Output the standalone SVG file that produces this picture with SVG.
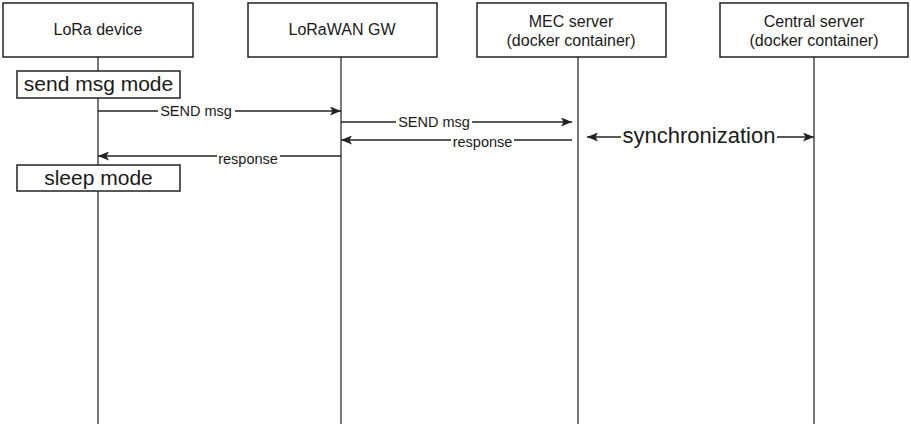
<svg xmlns="http://www.w3.org/2000/svg" width="911" height="428" viewBox="0 0 911 428">
<style>
.box{fill:#fff;stroke:#222;stroke-width:1.5}
.life{stroke:#555;stroke-width:1.6;fill:none}
.msg{stroke:#222;stroke-width:1.5;fill:none}
.t{font-family:"Liberation Sans",Arial,sans-serif;fill:#1a1a1a;text-anchor:middle}
.h{font-size:16px}
.m{font-size:21px}
.l{font-size:14.5px}
.s{font-size:22px}
.bg{fill:#fff}
</style>
<defs>
<marker id="ah" viewBox="0 0 11 9" refX="11" refY="4.5" markerWidth="11" markerHeight="9" markerUnits="userSpaceOnUse" orient="auto-start-reverse">
<path d="M0,0 L11,4.5 L0,9 L2.5,4.5 Z" fill="#222"/>
</marker>
</defs>
<rect width="911" height="428" fill="#fff"/>
<g id="lifelines">
<line class="life" x1="98" y1="57" x2="98" y2="424"/>
<line class="life" x1="341" y1="57" x2="341" y2="424"/>
<line class="life" x1="578" y1="57" x2="578" y2="424"/>
<line class="life" x1="814" y1="57" x2="814" y2="424"/>
</g>
<g id="lora-device">
<rect class="box" x="3" y="3" width="190" height="54"/>
<text class="t h" x="98" y="35">LoRa device</text>
</g>
<g id="lorawan-gw">
<rect class="box" x="248" y="3" width="189" height="54"/>
<text class="t h" x="342" y="35">LoRaWAN GW</text>
</g>
<g id="mec-server">
<rect class="box" x="477" y="3" width="189" height="54"/>
<text class="t h" x="571" y="27">MEC server</text>
<text class="t h" x="571" y="46">(docker container)</text>
</g>
<g id="central-server">
<rect class="box" x="720" y="3" width="188" height="54"/>
<text class="t h" x="814" y="27">Central server</text>
<text class="t h" x="814" y="46">(docker container)</text>
</g>
<g id="send-msg-mode">
<rect class="box" x="17" y="71" width="163" height="27"/>
<text class="t m" x="98.5" y="91">send msg mode</text>
</g>
<g id="sleep-mode">
<rect class="box" x="17" y="165" width="163" height="26"/>
<text class="t m" x="98.5" y="184.5">sleep mode</text>
</g>
<g id="connectors">
<line class="msg" x1="98" y1="111" x2="341" y2="111" marker-end="url(#ah)"/>
<rect class="bg" x="158" y="104" width="77" height="13"/>
<text class="t l" x="196" y="115.5">SEND msg</text>
<line class="msg" x1="341" y1="122" x2="572" y2="122" marker-end="url(#ah)"/>
<rect class="bg" x="396" y="115" width="76" height="13"/>
<text class="t l" x="434" y="126.5">SEND msg</text>
<line class="msg" x1="572" y1="140" x2="341" y2="140" marker-end="url(#ah)"/>
<rect class="bg" x="451" y="138" width="63" height="12"/>
<text class="t l" x="482.5" y="147">response</text>
<line class="msg" x1="341" y1="156" x2="98" y2="156" marker-end="url(#ah)"/>
<rect class="bg" x="217" y="154" width="63" height="12"/>
<text class="t l" x="248" y="164">response</text>
<line class="msg" x1="587" y1="137" x2="814" y2="137" marker-start="url(#ah)" marker-end="url(#ah)"/>
<rect class="bg" x="621" y="128" width="156" height="16"/>
<text class="t s" x="699" y="143">synchronization</text>
</g>
</svg>
